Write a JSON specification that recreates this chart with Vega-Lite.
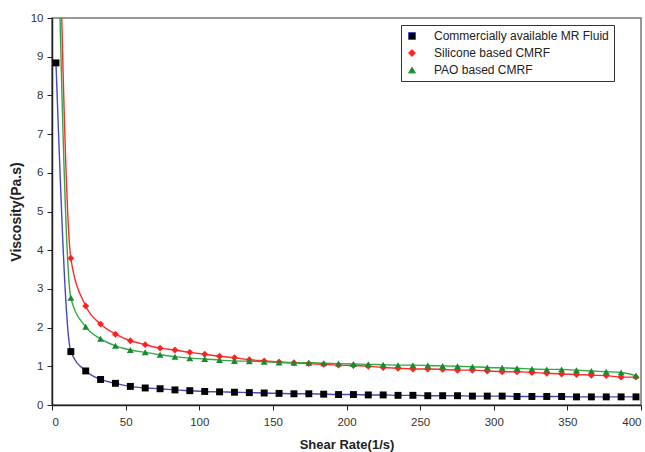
{
  "$schema": "https://vega.github.io/schema/vega-lite/v6.json",
  "width": 589,
  "height": 387,
  "autosize": "none",
  "padding": {"left": 52, "top": 18, "right": 4, "bottom": 47},
  "background": "white",
  "config": {
    "font": "Liberation Sans",
    "view": {"stroke": "#777", "strokeWidth": 1.5},
    "axis": {
      "grid": false,
      "domainColor": "#222",
      "domainWidth": 1.5,
      "tickColor": "#222",
      "tickSize": 5,
      "labelColor": "#333",
      "labelFont": "Liberation Sans",
      "labelFontSize": 11.5,
      "titleFont": "Liberation Sans",
      "titleFontWeight": "bold",
      "titleColor": "#222"
    }
  },
  "data": {
    "values": [
      {"rate": 2.7, "Commercially available MR Fluid": 8.84, "Silicone based CMRF": 16.7, "PAO based CMRF": 14.4},
      {"rate": 12.8, "Commercially available MR Fluid": 1.38, "Silicone based CMRF": 3.79, "PAO based CMRF": 2.77},
      {"rate": 22.9, "Commercially available MR Fluid": 0.88, "Silicone based CMRF": 2.56, "PAO based CMRF": 2.02},
      {"rate": 33.0, "Commercially available MR Fluid": 0.66, "Silicone based CMRF": 2.09, "PAO based CMRF": 1.71},
      {"rate": 43.1, "Commercially available MR Fluid": 0.56, "Silicone based CMRF": 1.83, "PAO based CMRF": 1.53},
      {"rate": 53.2, "Commercially available MR Fluid": 0.48, "Silicone based CMRF": 1.66, "PAO based CMRF": 1.42},
      {"rate": 63.3, "Commercially available MR Fluid": 0.44, "Silicone based CMRF": 1.56, "PAO based CMRF": 1.36},
      {"rate": 73.4, "Commercially available MR Fluid": 0.42, "Silicone based CMRF": 1.47, "PAO based CMRF": 1.30},
      {"rate": 83.5, "Commercially available MR Fluid": 0.39, "Silicone based CMRF": 1.42, "PAO based CMRF": 1.25},
      {"rate": 93.6, "Commercially available MR Fluid": 0.37, "Silicone based CMRF": 1.36, "PAO based CMRF": 1.21},
      {"rate": 103.7, "Commercially available MR Fluid": 0.35, "Silicone based CMRF": 1.31, "PAO based CMRF": 1.19},
      {"rate": 113.8, "Commercially available MR Fluid": 0.34, "Silicone based CMRF": 1.26, "PAO based CMRF": 1.16},
      {"rate": 123.9, "Commercially available MR Fluid": 0.33, "Silicone based CMRF": 1.22, "PAO based CMRF": 1.14},
      {"rate": 134.0, "Commercially available MR Fluid": 0.32, "Silicone based CMRF": 1.17, "PAO based CMRF": 1.13},
      {"rate": 144.1, "Commercially available MR Fluid": 0.31, "Silicone based CMRF": 1.14, "PAO based CMRF": 1.12},
      {"rate": 154.2, "Commercially available MR Fluid": 0.30, "Silicone based CMRF": 1.11, "PAO based CMRF": 1.10},
      {"rate": 164.3, "Commercially available MR Fluid": 0.29, "Silicone based CMRF": 1.09, "PAO based CMRF": 1.09},
      {"rate": 174.4, "Commercially available MR Fluid": 0.29, "Silicone based CMRF": 1.07, "PAO based CMRF": 1.09},
      {"rate": 184.5, "Commercially available MR Fluid": 0.28, "Silicone based CMRF": 1.05, "PAO based CMRF": 1.08},
      {"rate": 194.6, "Commercially available MR Fluid": 0.27, "Silicone based CMRF": 1.03, "PAO based CMRF": 1.07},
      {"rate": 204.7, "Commercially available MR Fluid": 0.27, "Silicone based CMRF": 1.02, "PAO based CMRF": 1.06},
      {"rate": 214.8, "Commercially available MR Fluid": 0.26, "Silicone based CMRF": 1.00, "PAO based CMRF": 1.05},
      {"rate": 224.9, "Commercially available MR Fluid": 0.26, "Silicone based CMRF": 0.97, "PAO based CMRF": 1.04},
      {"rate": 235.0, "Commercially available MR Fluid": 0.25, "Silicone based CMRF": 0.95, "PAO based CMRF": 1.03},
      {"rate": 245.1, "Commercially available MR Fluid": 0.25, "Silicone based CMRF": 0.93, "PAO based CMRF": 1.03},
      {"rate": 255.2, "Commercially available MR Fluid": 0.24, "Silicone based CMRF": 0.93, "PAO based CMRF": 1.02},
      {"rate": 265.3, "Commercially available MR Fluid": 0.24, "Silicone based CMRF": 0.92, "PAO based CMRF": 1.01},
      {"rate": 275.4, "Commercially available MR Fluid": 0.24, "Silicone based CMRF": 0.90, "PAO based CMRF": 1.00},
      {"rate": 285.5, "Commercially available MR Fluid": 0.23, "Silicone based CMRF": 0.90, "PAO based CMRF": 0.99},
      {"rate": 295.6, "Commercially available MR Fluid": 0.23, "Silicone based CMRF": 0.88, "PAO based CMRF": 0.97},
      {"rate": 305.7, "Commercially available MR Fluid": 0.23, "Silicone based CMRF": 0.86, "PAO based CMRF": 0.96},
      {"rate": 315.8, "Commercially available MR Fluid": 0.22, "Silicone based CMRF": 0.86, "PAO based CMRF": 0.95},
      {"rate": 325.9, "Commercially available MR Fluid": 0.22, "Silicone based CMRF": 0.84, "PAO based CMRF": 0.93},
      {"rate": 336.0, "Commercially available MR Fluid": 0.22, "Silicone based CMRF": 0.82, "PAO based CMRF": 0.92},
      {"rate": 346.1, "Commercially available MR Fluid": 0.22, "Silicone based CMRF": 0.80, "PAO based CMRF": 0.92},
      {"rate": 356.2, "Commercially available MR Fluid": 0.21, "Silicone based CMRF": 0.79, "PAO based CMRF": 0.90},
      {"rate": 366.3, "Commercially available MR Fluid": 0.21, "Silicone based CMRF": 0.77, "PAO based CMRF": 0.88},
      {"rate": 376.4, "Commercially available MR Fluid": 0.21, "Silicone based CMRF": 0.76, "PAO based CMRF": 0.86},
      {"rate": 386.5, "Commercially available MR Fluid": 0.21, "Silicone based CMRF": 0.72, "PAO based CMRF": 0.84},
      {"rate": 396.6, "Commercially available MR Fluid": 0.21, "Silicone based CMRF": 0.72, "PAO based CMRF": 0.76}
    ]
  },
  "transform": [
    {"fold": ["Commercially available MR Fluid", "Silicone based CMRF", "PAO based CMRF"], "as": ["fluid", "viscosity"]}
  ],
  "encoding": {
    "x": {
      "field": "rate", "type": "quantitative",
      "scale": {"domain": [0, 400], "nice": false, "zero": true},
      "axis": {"values": [0, 50, 100, 150, 200, 250, 300, 350, 400], "title": "Shear Rate(1/s)", "titleFontSize": 13, "titlePadding": 11, "labelPadding": 6}
    },
    "y": {
      "field": "viscosity", "type": "quantitative",
      "scale": {"domain": [0, 10], "nice": false},
      "axis": {"values": [0, 1, 2, 3, 4, 5, 6, 7, 8, 9, 10], "title": "Viscosity(Pa.s)", "titleFontSize": 14, "titlePadding": 7, "labelPadding": 4}
    }
  },
  "layer": [
    {
      "mark": {"type": "line", "clip": true, "strokeWidth": 1.4, "interpolate": "monotone"},
      "encoding": {
        "stroke": {
          "field": "fluid", "type": "nominal",
          "scale": {"domain": ["Commercially available MR Fluid", "Silicone based CMRF", "PAO based CMRF"], "range": ["#4848c0", "#ff2a2a", "#2fa845"]},
          "legend": {
            "title": null, "orient": "none", "legendX": 349, "legendY": 7,
            "strokeColor": "#333", "fillColor": "white", "padding": 5, "rowPadding": 5,
            "symbolSize": 48, "symbolStrokeWidth": 1,
            "labelFont": "Liberation Sans", "labelFontSize": 12, "labelColor": "#222", "labelOffset": 16, "labelLimit": 300
          }
        }
      }
    },
    {
      "mark": {"type": "point", "filled": true, "clip": true, "opacity": 1, "size": 48},
      "encoding": {
        "fill": {
          "field": "fluid", "type": "nominal",
          "scale": {"domain": ["Commercially available MR Fluid", "Silicone based CMRF", "PAO based CMRF"], "range": ["#000000", "#ff2020", "#1a8a30"]},
          "legend": null
        },
        "shape": {
          "field": "fluid", "type": "nominal",
          "scale": {"domain": ["Commercially available MR Fluid", "Silicone based CMRF", "PAO based CMRF"], "range": ["square", "diamond", "triangle-up"]},
          "legend": null
        }
      }
    }
  ]
}
